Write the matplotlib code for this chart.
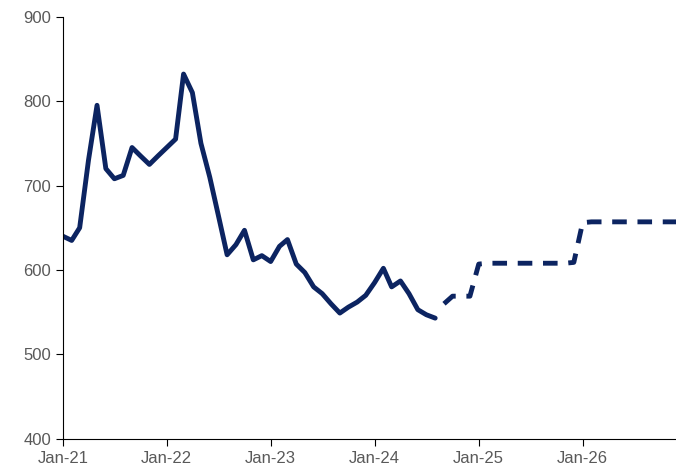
import matplotlib
matplotlib.use("Agg")
import matplotlib.pyplot as plt
import pandas as pd

plt.rcParams['font.family'] = ['Liberation Sans', 'DejaVu Sans']

# actual monthly values Jan-21 .. Aug-24
actual = [640, 635, 650, 730, 795, 720, 708, 712, 745, 735, 725, 735,
          745, 755, 832, 810, 750, 710, 665, 618, 630, 647, 612, 617,
          610, 628, 636, 607, 597, 580, 572, 560, 549, 556, 562, 570,
          585, 602, 580, 587, 572, 553, 547, 543]
# forecast Aug-24 .. Dec-26
forecast = [543, 560, 569, 569, 569,
            607, 608, 608, 608, 608, 608, 608, 608, 608, 608, 608, 609,
            656, 657, 657, 657, 657, 657, 657, 657, 657, 657, 657, 657]

act_dates = pd.date_range("2021-01-01", periods=len(actual), freq="MS")
fc_dates = pd.date_range("2024-08-01", periods=len(forecast), freq="MS")
ticks = pd.date_range("2021-01-01", "2026-01-01", freq="YS")
tick_labels = ["Jan-21", "Jan-22", "Jan-23", "Jan-24", "Jan-25", "Jan-26"]

navy = "#0c2461"
fig, ax = plt.subplots(figsize=(6.76, 4.75), dpi=100)
fig.subplots_adjust(left=0.093, right=1.0, top=0.965, bottom=0.076)
ax.plot(act_dates, actual, color=navy, lw=3.5, solid_capstyle="round")
ax.plot(fc_dates[1:], forecast[1:], color=navy, lw=3.5, dashes=(3, 2.2))

ax.set_ylim(400, 900)
ax.set_yticks(range(400, 901, 100))
ax.set_xlim(pd.Timestamp("2021-01-01"), pd.Timestamp("2026-11-25"))
ax.set_xticks(ticks)
ax.set_xticklabels(tick_labels)
for s in ["top", "right"]:
    ax.spines[s].set_visible(False)
for s in ["left", "bottom"]:
    ax.spines[s].set_color("#000000")
ax.tick_params(axis="both", colors="#000000", labelcolor="#595959", labelsize=12)
ax.tick_params(axis="x", direction="out", length=5)
ax.tick_params(axis="y", direction="out", length=5)
fig.savefig("out.png")
